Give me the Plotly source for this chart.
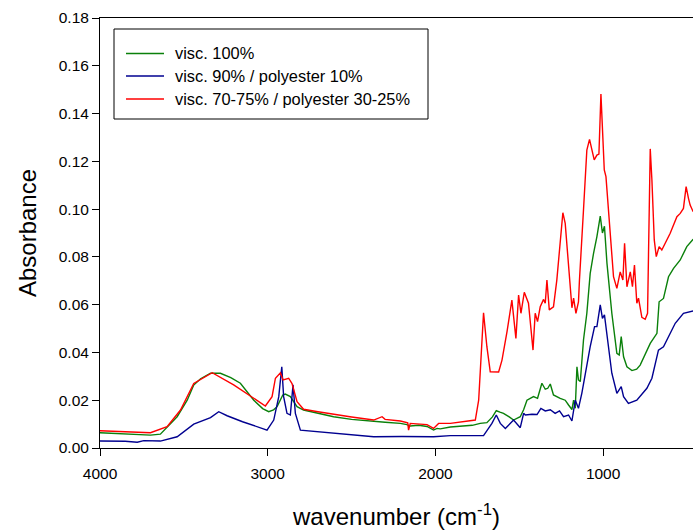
import plotly.graph_objects as go

# ---------------- data ----------------
green_wn = [4000, 3850, 3699, 3640, 3540, 3480, 3441, 3400, 3341, 3282, 3220, 3163, 3083, 3030, 2994,
            2965, 2944, 2910, 2895, 2865, 2840, 2825, 2786, 2700, 2607, 2500, 2368, 2300, 2209, 2170,
            2150, 2100, 2050, 2011, 1990, 1971, 1911, 1850, 1780, 1733, 1693, 1660, 1637, 1615, 1594,
            1560, 1534, 1494, 1474, 1454, 1415, 1391, 1365, 1345, 1330, 1315, 1296, 1256, 1226, 1206,
            1186, 1176, 1166, 1156, 1147, 1136, 1117, 1097, 1077, 1057, 1037, 1017, 1004, 992, 977,
            948, 918, 904, 892, 878, 858, 828, 800, 779, 750, 719, 679, 666, 640, 610, 580, 540, 501, 463]
green_abs = [0.0064, 0.0060, 0.0054, 0.0058, 0.0131, 0.0200, 0.0264, 0.0290, 0.0313, 0.0313, 0.0295,
             0.0271, 0.0200, 0.0165, 0.0152, 0.0160, 0.0173, 0.0222, 0.0226, 0.0215, 0.0190, 0.0173,
             0.0159, 0.0145, 0.0131, 0.0120, 0.0110, 0.0108, 0.0103, 0.0098, 0.0092, 0.0095, 0.0090,
             0.0075, 0.0082, 0.0080, 0.0088, 0.0090, 0.0095, 0.0103, 0.0106, 0.0130, 0.0156, 0.0150,
             0.0145, 0.0130, 0.0117, 0.0131, 0.0160, 0.0200, 0.0215, 0.0208, 0.0271, 0.0246, 0.0250,
             0.0268, 0.0222, 0.0208, 0.0200, 0.0180, 0.0161, 0.0200, 0.0166, 0.0340, 0.0285, 0.0278,
             0.0452, 0.0564, 0.0731, 0.0815, 0.0885, 0.0971, 0.0900, 0.0928, 0.0773, 0.0564, 0.0396,
             0.0389, 0.0466, 0.0382, 0.0340, 0.0324, 0.0330, 0.0347, 0.0390, 0.0438, 0.0480, 0.0612,
             0.0626, 0.0717, 0.0752, 0.0787, 0.0843, 0.0874]

blue_wn = [4000, 3850, 3778, 3739, 3640, 3540, 3441, 3341, 3292, 3242, 3150, 3050, 3004, 2964, 2934,
           2916, 2905, 2885, 2865, 2849, 2835, 2805, 2700, 2607, 2500, 2368, 2200, 2011, 1911, 1800,
           1713, 1663, 1637, 1613, 1583, 1534, 1494, 1474, 1464, 1424, 1394, 1371, 1345, 1315, 1286,
           1260, 1236, 1206, 1186, 1166, 1147, 1127, 1107, 1077, 1051, 1037, 1017, 1004, 992, 977,
           948, 918, 892, 878, 849, 799, 739, 709, 670, 640, 610, 570, 521, 463]
blue_abs = [0.0029, 0.0028, 0.0024, 0.0031, 0.0029, 0.0047, 0.0100, 0.0127, 0.0152, 0.0135, 0.0110,
            0.0085, 0.0075, 0.0117, 0.0215, 0.0340, 0.0215, 0.0145, 0.0138, 0.0264, 0.0145, 0.0075,
            0.0068, 0.0061, 0.0055, 0.0047, 0.0048, 0.0047, 0.0052, 0.0051, 0.0052, 0.0103, 0.0138,
            0.0103, 0.0082, 0.0117, 0.0085, 0.0145, 0.0138, 0.0141, 0.0140, 0.0166, 0.0155, 0.0160,
            0.0145, 0.0155, 0.0131, 0.0138, 0.0113, 0.0200, 0.0166, 0.0229, 0.0313, 0.0424, 0.0508,
            0.0508, 0.0599, 0.0543, 0.0557, 0.0480, 0.0313, 0.0229, 0.0257, 0.0215, 0.0187, 0.0200,
            0.0250, 0.0292, 0.0410, 0.0424, 0.0466, 0.0522, 0.0564, 0.0574]

red_wn = [4000, 3850, 3699, 3600, 3520, 3441, 3331, 3203, 3083, 3014, 2974, 2954, 2924, 2908, 2875,
          2855, 2825, 2786, 2700, 2607, 2500, 2368, 2318, 2300, 2209, 2165, 2160, 2150, 2050, 2011,
          1981, 1911, 1762, 1742, 1713, 1693, 1673, 1623, 1603, 1573, 1544, 1520, 1504, 1490, 1470,
          1445, 1418, 1405, 1391, 1375, 1355, 1345, 1335, 1321, 1296, 1276, 1256, 1240, 1226, 1206,
          1186, 1176, 1162, 1147, 1141, 1117, 1097, 1081, 1053, 1037, 1025, 1013, 1001, 993, 983,
          968, 938, 918, 898, 882, 872, 858, 838, 825, 813, 799, 789, 769, 749, 735, 723, 719, 709,
          695, 683, 666, 650, 630, 600, 560, 540, 521, 505, 491, 481, 463]
red_abs = [0.0072, 0.0068, 0.0064, 0.0089, 0.0159, 0.0270, 0.0315, 0.0264, 0.0208, 0.0176, 0.0215,
           0.0292, 0.0315, 0.0285, 0.0292, 0.0270, 0.0194, 0.0162, 0.0152, 0.0141, 0.0130, 0.0117,
           0.0131, 0.0120, 0.0113, 0.0105, 0.0075, 0.0103, 0.0098, 0.0082, 0.0103, 0.0103, 0.0117,
           0.0200, 0.0566, 0.0424, 0.0319, 0.0318, 0.0368, 0.0487, 0.0619, 0.0459, 0.0640, 0.0564,
           0.0652, 0.0606, 0.0410, 0.0564, 0.0529, 0.0591, 0.0622, 0.0606, 0.0703, 0.0578, 0.0591,
           0.0703, 0.0871, 0.0985, 0.0940, 0.0759, 0.0587, 0.0627, 0.0564, 0.0612, 0.0703, 0.0996,
           0.1247, 0.1292, 0.1206, 0.1226, 0.1230, 0.1482, 0.1289, 0.1164, 0.1136, 0.0982, 0.0717,
           0.0668, 0.0737, 0.0703, 0.0857, 0.0675, 0.0737, 0.0675, 0.0766, 0.0606, 0.0627, 0.0547,
           0.0539, 0.0564, 0.0982, 0.1252, 0.1122, 0.0871, 0.0801, 0.0843, 0.0829, 0.0857, 0.0899,
           0.0968, 0.0982, 0.1003, 0.1094, 0.1045, 0.1017, 0.0989]

series_names = ["visc. 100%", "visc. 90% / polyester 10%", "visc. 70-75% / polyester 30-25%"]
series_colors = ["#0A800A", "#000090", "#FF0000"]

x_ticks = [4000, 3000, 2000, 1000]
x_range = [4000, 464]
y_range = [0, 0.18]

FONT = "Arial, Liberation Sans, sans-serif"

fig = go.Figure()
for wn, ab, name, col in [(green_wn, green_abs, series_names[0], series_colors[0]),
                          (blue_wn, blue_abs, series_names[1], series_colors[1]),
                          (red_wn, red_abs, series_names[2], series_colors[2])]:
    fig.add_trace(go.Scatter(x=wn, y=ab, mode="lines", name=name,
                             line=dict(color=col, width=1.4), showlegend=False))

# ---- manual legend box (paper coordinates) ----
W, H = 593.0, 430.0
def px(x):
    return (x - 100) / W
def py(y):
    return (448 - y) / H

shapes = [dict(type="rect", xref="paper", yref="paper",
               x0=px(114), x1=px(428), y0=py(119), y1=py(29),
               line=dict(color="black", width=1), fillcolor="white", layer="above")]
annotations = []
rows = [53.5, 76, 99]
for name, col, ry in zip(series_names, series_colors, rows):
    shapes.append(dict(type="line", xref="paper", yref="paper", x0=px(126), x1=px(164),
                       y0=py(ry), y1=py(ry), line=dict(color=col, width=1.4), layer="above"))
    annotations.append(dict(xref="paper", yref="paper", x=px(173), y=py(ry), text=name,
                            showarrow=False, xanchor="left", yanchor="middle",
                            font=dict(family=FONT, size=16.4, color="black")))

fig.update_layout(
    width=693, height=531, autosize=False,
    margin=dict(l=100, r=0, t=18, b=83),
    paper_bgcolor="white", plot_bgcolor="white",
    font=dict(family=FONT, color="black"),
    shapes=shapes, annotations=annotations,
    xaxis=dict(range=x_range, tickvals=x_ticks, ticktext=[str(t) for t in x_ticks],
               showgrid=False, zeroline=False, showline=True, linecolor="black", linewidth=1,
               mirror=True, ticks="outside", ticklen=7, tickcolor="black", tickwidth=1,
               tickfont=dict(size=15.5, family=FONT), ticklabelstandoff=4,
               title=dict(text="wavenumber (cm<sup>-1</sup>)", font=dict(size=24, family=FONT),
                          standoff=27)),
    yaxis=dict(range=y_range, dtick=0.02, tickformat=".2f",
               showgrid=False, zeroline=False, showline=True, linecolor="black", linewidth=1,
               ticks="outside", ticklen=7, tickcolor="black", tickwidth=1,
               tickfont=dict(size=15.5, family=FONT),
               title=dict(text="Absorbance", font=dict(size=24, family=FONT), standoff=15)),
)

fig.write_html("out.html", config={"displayModeBar": False},
               post_script="document.body.style.margin='0';")
